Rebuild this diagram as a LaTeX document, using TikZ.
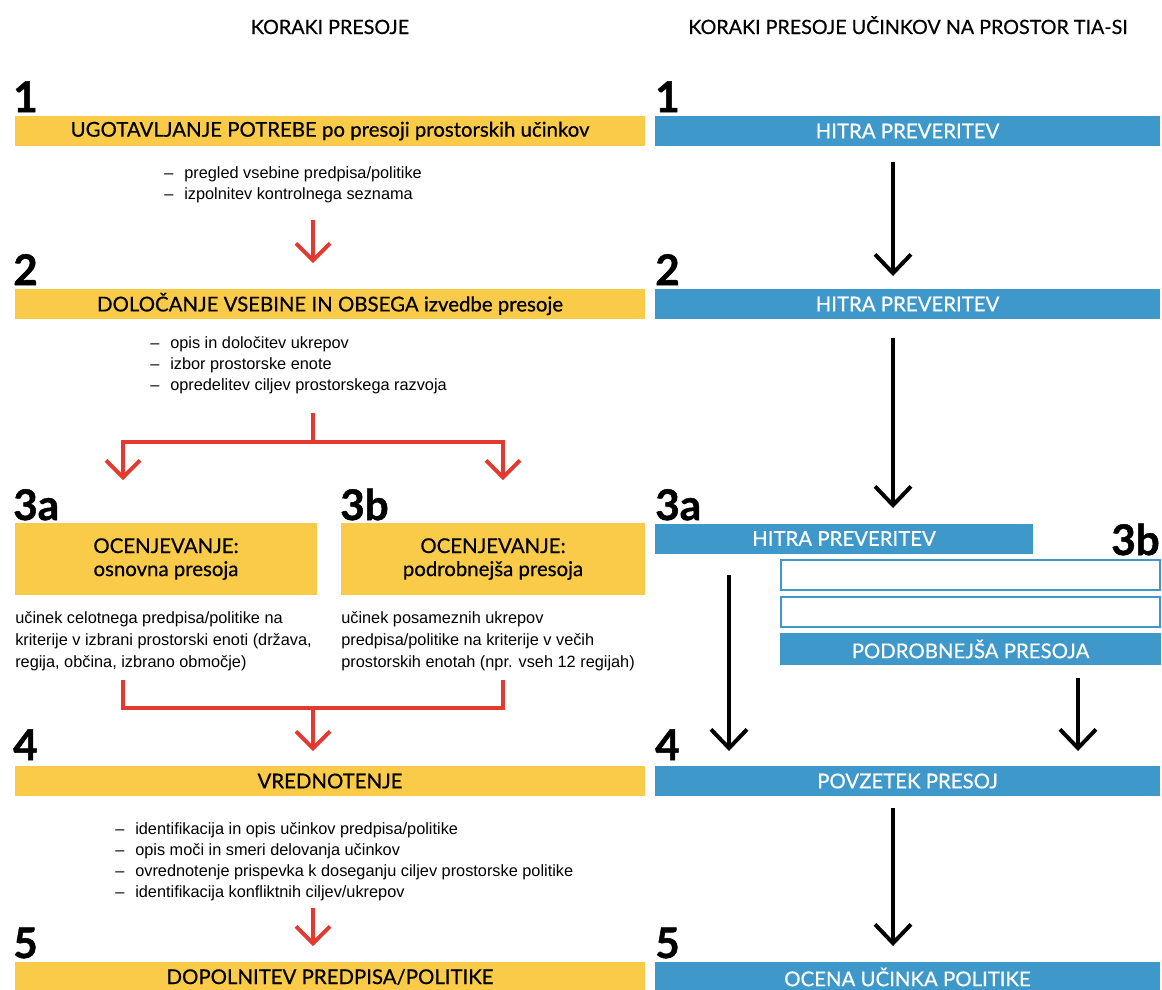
\documentclass[tikz,border=0pt]{standalone}
\usepackage{fontspec}
\setmainfont{Lato}
\newfontfamily\medfont[FakeBold=0.5]{Lato}
\newfontfamily\numfont[BoldFeatures={FakeBold=1.2}]{Lato}
\newfontfamily\listfont{Liberation Sans}
\usetikzlibrary{arrows.meta,positioning}
\definecolor{tiayellow}{HTML}{F9CB48}
\definecolor{tiablue}{HTML}{3E98C9}
\definecolor{tiared}{HTML}{E5392F}
\newcommand{\bul}[1]{\makebox[0.5cm][l]{–}#1}
\tikzset{
  ybox/.style={fill=tiayellow, inner sep=0pt, minimum height=0.75cm, align=center,
    font=\medfont\fontsize{14.5}{16.4}\selectfont},
  bbox/.style={fill=tiablue, text=white, inner sep=0pt, minimum height=0.75cm,
    font=\medfont\fontsize{14.5}{16}\selectfont},
  obox/.style={draw=tiablue, line width=1.4pt, fill=white, inner sep=0pt,
    minimum width=9.475cm, minimum height=0.75cm},
  num/.style={font=\numfont\bfseries\fontsize{30}{31}\selectfont, inner sep=0pt, anchor=base west},
  head/.style={font=\medfont\fontsize{14}{16}\selectfont, inner sep=0pt, anchor=base},
  lst/.style={font=\listfont\fontsize{11.6}{14.9}\selectfont, align=left, inner sep=0pt,
    anchor=north west},
  redline/.style={draw=tiared, line width=2.8pt},
  redarr/.style={redline, -{Straight Barb[length=0.42cm,width=0.85cm]}},
  blkarr/.style={line width=2.8pt, -{Straight Barb[length=0.47cm,width=0.9cm]}}
}
\begin{document}
\begin{tikzpicture}[x=0.025cm, y=-0.025cm]
  \useasboundingbox (0,0) rectangle (1162,989);

  % headings
  \node[head] (hl) at (330,34) {KORAKI PRESOJE};
  \node[head] (hr) at (908,34) {KORAKI PRESOJE UČINKOV NA PROSTOR TIA-SI};

  % left column
  \node[num] (n1) at (13,112) {1};
  \node[ybox, minimum width=15.75cm] (box1) at (330,131) {UGOTAVLJANJE POTREBE po presoji prostorskih učinkov};
  \node[lst] (bul1) at (164,166) {\bul{pregled vsebine predpisa/politike}\\
    \bul{izpolnitev kontrolnega seznama}};

  \node[num] (n2) at (13,285) {2};
  \node[ybox, minimum width=15.75cm] (box2) at (330,304) {DOLOČANJE VSEBINE IN OBSEGA izvedbe presoje};
  \node[lst] (bul2) at (150,336) {\bul{opis in določitev ukrepov}\\
    \bul{izbor prostorske enote}\\
    \bul{opredelitev ciljev prostorskega razvoja}};

  \node[num] (n3a) at (13,520) {3a};
  \node[num] (n3b) at (340,520) {3b};
  \node[ybox, minimum width=7.55cm, minimum height=1.8cm] (box3a) at (166,559) {OCENJEVANJE:\\ osnovna presoja};
  \node[ybox, minimum width=7.6cm, minimum height=1.8cm] (box3b) at (493,559) {OCENJEVANJE:\\ podrobnejša presoja};
  \node[lst, font=\listfont\fontsize{11.6}{15.6}\selectfont] (txt3a) at (15,611) {učinek celotnega predpisa/politike na\\
    kriterije v izbrani prostorski enoti (država,\\
    regija, občina, izbrano območje)};
  \node[lst, font=\listfont\fontsize{11.6}{15.6}\selectfont] (txt3b) at (341,611) {učinek posameznih ukrepov\\
    predpisa/politike na kriterije v večih\\
    prostorskih enotah (npr. vseh 12 regijah)};

  \node[num] (n4) at (13,760) {4};
  \node[ybox, minimum width=15.75cm] (box4) at (330,781) {VREDNOTENJE};
  \node[lst] (bul4) at (115,822) {\bul{identifikacija in opis učinkov predpisa/politike}\\
    \bul{opis moči in smeri delovanja učinkov}\\
    \bul{ovrednotenje prispevka k doseganju ciljev prostorske politike}\\
    \bul{identifikacija konfliktnih ciljev/ukrepov}};

  \node[num] (n5) at (13,958) {5};
  \node[ybox, minimum width=15.75cm] (box5) at (330,977) {DOPOLNITEV PREDPISA/POLITIKE};

  % right column
  \node[num] (m1) at (655,112) {1};
  \node[bbox, minimum width=12.625cm] (rb1) at (907.5,131) {HITRA PREVERITEV};
  \node[num] (m2) at (655,285) {2};
  \node[bbox, minimum width=12.625cm] (rb2) at (907.5,304) {HITRA PREVERITEV};
  \node[num] (m3a) at (655,520) {3a};
  \node[num, anchor=base east] (m3b) at (1160,555) {3b};
  \node[bbox, minimum width=9.45cm] (rb3a) at (844,538.5) {HITRA PREVERITEV};
  \node[obox] (ob1) at (970.5,575) {};
  \node[obox] (ob2) at (970.5,612) {};
  \node[bbox, minimum width=9.5cm, minimum height=0.8cm] (rb3b) at (970.5,649) {PODROBNEJŠA PRESOJA};
  \node[num] (m4) at (655,760) {4};
  \node[bbox, minimum width=12.625cm] (rb4) at (907.5,781) {POVZETEK PRESOJ};
  \node[num] (m5) at (655,958) {5};
  \node[bbox, minimum width=12.625cm] (rb5) at (907.5,977) {OCENA UČINKA POLITIKE};

  % red arrows
  \coordinate (r1s) at (313,220);
  \coordinate (r1e) at (313,263);
  \draw[redarr] (r1s) -- (r1e);
  \coordinate (t0) at (313,413);
  \coordinate (tm) at (313,442);
  \coordinate (ta) at (123,480);
  \coordinate (tb) at (503,480);
  \draw[redarr] (t0) -- (tm) -| (ta);
  \draw[redarr] (tm) -| (tb);
  \coordinate (ma) at (123,680);
  \coordinate (mb) at (503,680);
  \coordinate (mm) at (313,708);
  \coordinate (r4e) at (313,751);
  \draw[redline] (ma) |- (mm) -| (mb);
  \draw[redarr] (mm) -- (r4e);
  \coordinate (r5s) at (313,908);
  \coordinate (r5e) at (313,946);
  \draw[redarr] (r5s) -- (r5e);

  % black arrows
  \coordinate (k1s) at (893,162);
  \coordinate (k1e) at (893,276);
  \draw[blkarr] (k1s) -- (k1e);
  \coordinate (k2s) at (893,338);
  \coordinate (k2e) at (893,508);
  \draw[blkarr] (k2s) -- (k2e);
  \coordinate (k3s) at (729,575);
  \coordinate (k3e) at (729,751);
  \draw[blkarr] (k3s) -- (k3e);
  \coordinate (k4s) at (1078,678);
  \coordinate (k4e) at (1078,751);
  \draw[blkarr] (k4s) -- (k4e);
  \coordinate (k5s) at (893,808);
  \coordinate (k5e) at (893,946);
  \draw[blkarr] (k5s) -- (k5e);
\end{tikzpicture}
\end{document}
